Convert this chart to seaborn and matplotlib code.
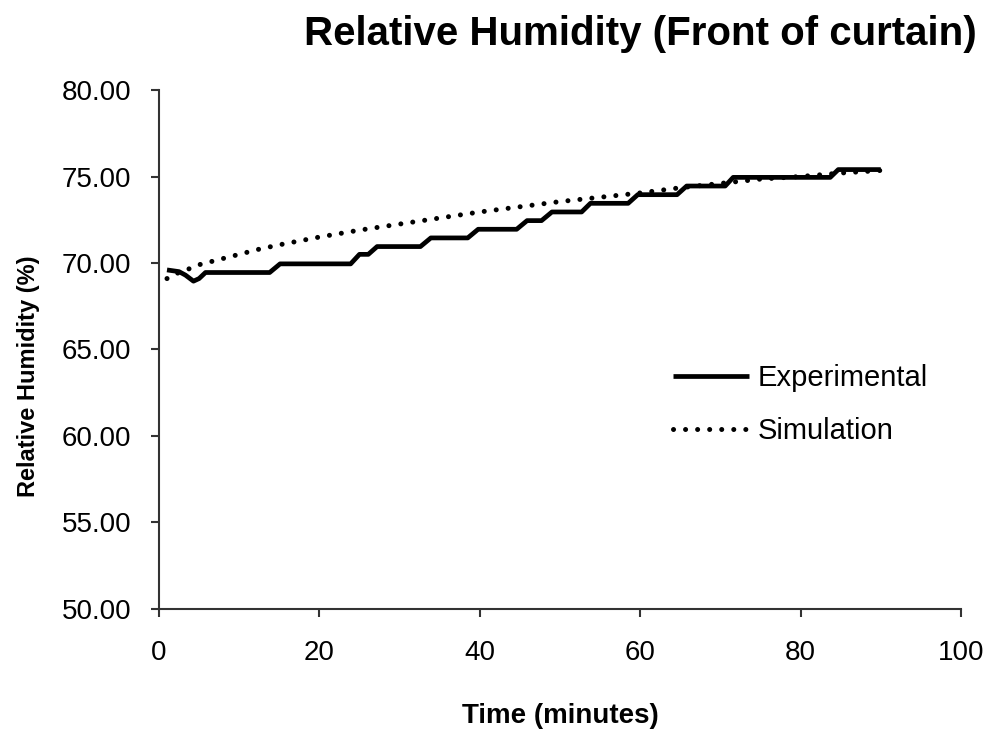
import matplotlib
matplotlib.use("Agg")
import matplotlib.pyplot as plt
import seaborn as sns
import pandas as pd

# Measured relative humidity in front of the curtain (stepped sensor readings)
exp_time = [1.0, 2.5, 3.3, 4.3, 5.0, 5.8, 13.8, 15.1, 23.9, 25.0, 26.1, 27.2,
            32.6, 33.9, 38.5, 39.8, 44.6, 45.9, 47.7, 49.0, 52.7, 53.8, 58.5,
            59.7, 64.6, 65.8, 70.6, 71.6, 83.7, 84.7, 90.0]
exp_rh = [69.6, 69.5, 69.3, 68.95, 69.1, 69.45, 69.45, 69.95, 69.95, 70.5, 70.5,
          70.95, 70.95, 71.45, 71.45, 71.95, 71.95, 72.45, 72.45, 72.95, 72.95,
          73.45, 73.45, 73.95, 73.95, 74.45, 74.45, 74.95, 74.95, 75.4, 75.4]

# Simulated relative humidity
sim_time = [1, 2, 3, 4, 5, 7.5, 10, 12.5, 15, 20, 25, 30, 35, 40, 45, 50, 55,
            60, 65, 70, 75, 80, 85, 90]
sim_rh = [69.1, 69.35, 69.55, 69.7, 69.9, 70.2, 70.5, 70.8, 71.05, 71.5, 71.9,
          72.25, 72.6, 72.95, 73.25, 73.55, 73.8, 74.05, 74.35, 74.6, 74.85,
          75.0, 75.2, 75.35]

x_ticks = [0, 20, 40, 60, 80, 100]
y_ticks = [50, 55, 60, 65, 70, 75, 80]

sns.set_theme(style="white")
plt.rcParams["font.family"] = ["Liberation Sans", "DejaVu Sans"]
plt.rcParams["text.color"] = "black"
plt.rcParams["axes.labelcolor"] = "black"

exp_df = pd.DataFrame({"Time": exp_time, "RH": exp_rh})
sim_df = pd.DataFrame({"Time": sim_time, "RH": sim_rh})

fig = plt.figure(figsize=(9.85, 7.33), dpi=100)
ax = fig.add_axes([0.1614, 0.1692, 0.8142, 0.708])

sns.lineplot(data=exp_df, x="Time", y="RH", ax=ax, color="black",
             linewidth=3.4, estimator=None, label="Experimental")
sns.lineplot(data=sim_df, x="Time", y="RH", ax=ax, color="black",
             linewidth=3.6, estimator=None, label="Simulation",
             linestyle=(0, (0.01, 2.4)))
for ln in ax.get_lines():
    ln.set_dash_capstyle("round")
    ln.set_solid_capstyle("butt")

ax.set_xlim(0, 100)
ax.set_ylim(50, 80)
ax.set_xticks(x_ticks)
ax.set_yticks(y_ticks)
ax.set_xticklabels([str(v) for v in x_ticks])
ax.set_yticklabels([f"{v:.2f}" for v in y_ticks])
ax.tick_params(axis="both", which="major", bottom=True, left=True,
               direction="out", length=6, width=1.5, color="#333333",
               labelsize=20, labelcolor="black")
ax.tick_params(axis="y", pad=14)
ax.tick_params(axis="x", pad=16)

for side in ["top", "right"]:
    ax.spines[side].set_visible(False)
for side in ["left", "bottom"]:
    ax.spines[side].set_color("#333333")
    ax.spines[side].set_linewidth(1.5)

ax.set_xlabel("Time (minutes)", fontsize=20, fontweight="bold")
ax.xaxis.set_label_coords(0.5, -0.182)
ax.set_ylabel("Relative Humidity (%)", fontsize=17, fontweight="bold")
ax.yaxis.set_label_coords(-0.148, 0.449)

fig.text(0.65, 0.953, "Relative Humidity (Front of curtain)", fontsize=29,
         fontweight="bold", ha="center", va="center")

leg = ax.legend(loc="upper left", bbox_to_anchor=(0.683, 0.503),
                bbox_transform=fig.transFigure, frameon=False, fontsize=21,
                handlelength=2.6, handletextpad=0.3, labelspacing=0.84,
                borderpad=0, borderaxespad=0)
for h in leg.get_lines():
    h.set_dash_capstyle("round")

fig.savefig("out.png", dpi=100, facecolor="white")
